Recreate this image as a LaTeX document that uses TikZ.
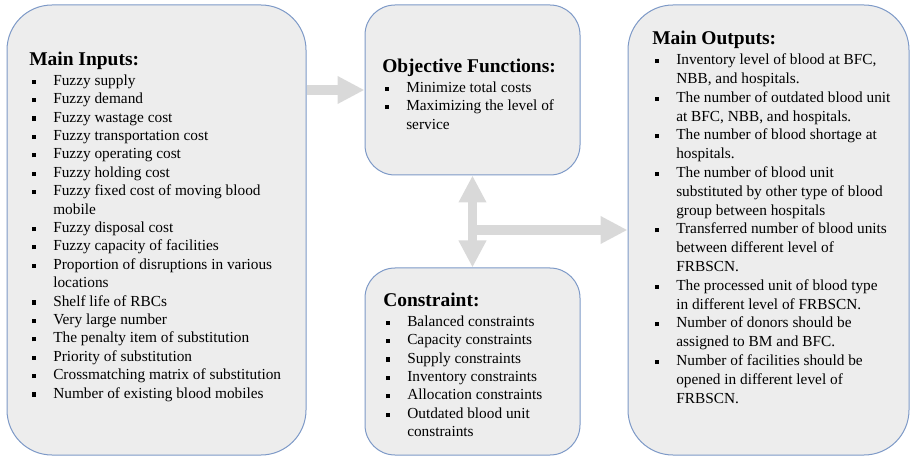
\documentclass[tikz,border=0pt]{standalone}
\usepackage{fontspec}
\setmainfont{Liberation Serif}
\usetikzlibrary{arrows.meta}
\newlength{\du}
\setlength{\du}{0.75pt}
\newlength{\itemind}
\setlength{\itemind}{24\du}
\newcommand{\bulletsq}{\rule[1.1pt]{3pt}{3.2pt}}
\newcommand{\itm}{\makebox[\itemind][l]{\hspace{3\du}\bulletsq}}
\newcommand{\cnt}{\hspace*{\itemind}}
\newcommand{\headline}[1]{{\fontsize{14.6}{16}\selectfont\bfseries #1}}

\begin{document}
\begin{tikzpicture}[
  roundbox/.style={draw=boxlinecolor, fill=boxfillcolor, line width=1\du, inner sep=0pt},
  boxtext/.style={anchor=north west, align=left, inner sep=0pt, font=\fontsize{11.5}{13.8}\selectfont},
  fatarrow/.style={draw=arrowcolor, line width=7.1pt, -{Triangle[width=19.5pt,length=20.25pt]}},
  dblarrow/.style={draw=arrowcolor, line width=7.1pt, {Triangle[width=19.5pt,length=20.25pt]}-{Triangle[width=19.5pt,length=20.25pt]}},
]
\pgftransformxscale{1.000000}
\pgftransformyscale{-1.000000}
\definecolor{boxlinecolor}{rgb}{0.490000, 0.600000, 0.780000}
\definecolor{boxfillcolor}{rgb}{0.929000, 0.929000, 0.929000}
\definecolor{arrowcolor}{rgb}{0.851000, 0.851000, 0.851000}
\useasboundingbox (0\du,0\du) rectangle (911\du,456\du);
% boxes
\node[roundbox, rounded corners=45\du, minimum width=299\du, minimum height=450\du] (inputs) at (156.5\du,230\du) {};
\node[roundbox, rounded corners=30\du, minimum width=215\du, minimum height=170\du] (objective) at (472.5\du,90\du) {};
\node[roundbox, rounded corners=30\du, minimum width=215\du, minimum height=187\du] (constraint) at (472.5\du,361.5\du) {};
\node[roundbox, rounded corners=45\du, minimum width=281\du, minimum height=450\du] (outputs) at (768.5\du,230\du) {};
% arrows
\draw[fatarrow] (inputs.east |- objective.west) -- (objective.west);
\draw[dblarrow] (objective.south) -- (constraint.north);
\draw[fatarrow] (objective.south |- outputs.west) -- (outputs.west);
% texts
\node[boxtext] (inputstext) at (29\du,51.5\du){\headline{Main Inputs:}\\[1.2pt]
\itm Fuzzy supply\\
\itm Fuzzy demand\\
\itm Fuzzy wastage cost\\
\itm Fuzzy transportation cost\\
\itm Fuzzy operating cost\\
\itm Fuzzy holding cost\\
\itm Fuzzy fixed cost of moving blood\\
\cnt mobile\\
\itm Fuzzy disposal cost\\
\itm Fuzzy capacity of facilities\\
\itm Proportion of disruptions in various\\
\cnt locations\\
\itm Shelf life of RBCs\\
\itm Very large number\\
\itm The penalty item of substitution\\
\itm Priority of substitution\\
\itm Crossmatching matrix of substitution\\
\itm Number of existing blood mobiles};
\node[boxtext] (objectivetext) at (382\du,58.5\du){\headline{Objective Functions:}\\[1.2pt]
\itm Minimize total costs\\
\itm Maximizing the level of\\
\cnt service};
\node[boxtext] (constrainttext) at (383\du,292.5\du){\headline{Constraint:}\\[1.2pt]
\itm Balanced constraints\\
\itm Capacity constraints\\
\itm Supply constraints\\
\itm Inventory constraints\\
\itm Allocation constraints\\
\itm Outdated blood unit\\
\cnt constraints};
\node[boxtext, font=\fontsize{11.5}{14.1}\selectfont] (outputstext) at (652\du,30.5\du){\headline{Main Outputs:}\\[1.2pt]
\itm Inventory level of blood at BFC,\\
\cnt NBB, and hospitals.\\
\itm The number of outdated blood unit\\
\cnt at BFC, NBB, and hospitals.\\
\itm The number of blood shortage at\\
\cnt hospitals.\\
\itm The number of blood unit\\
\cnt substituted by other type of blood\\
\cnt group between hospitals\\
\itm Transferred number of blood units\\
\cnt between different level of\\
\cnt FRBSCN.\\
\itm The processed unit of blood type\\
\cnt in different level of FRBSCN.\\
\itm Number of donors should be\\
\cnt assigned to BM and BFC.\\
\itm Number of facilities should be\\
\cnt opened in different level of\\
\cnt FRBSCN.};
\end{tikzpicture}
\end{document}
